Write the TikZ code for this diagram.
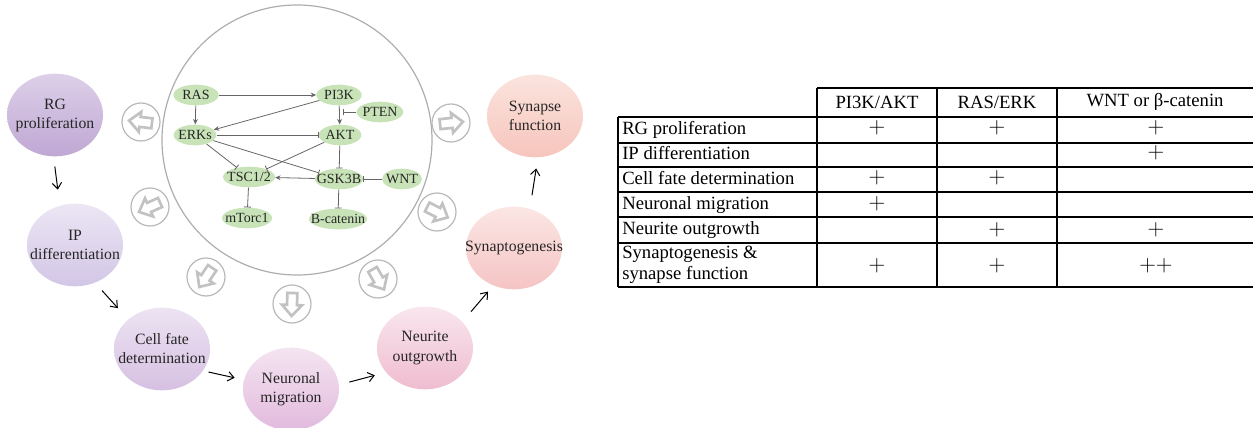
\documentclass[tikz,border=0pt]{standalone}
\usepackage{fontspec}
\setmainfont{Liberation Serif}
\usetikzlibrary{shapes.geometric,arrows.meta}
\definecolor{genegreen}{HTML}{C9E3B8}
\definecolor{rgtop}{HTML}{DDD0E9}
\definecolor{rgbot}{HTML}{BFA7D3}
\definecolor{iptop}{HTML}{ECE6F4}
\definecolor{ipbot}{HTML}{D2C6E6}
\definecolor{cftop}{HTML}{EDE3F2}
\definecolor{cfbot}{HTML}{D6C0E2}
\definecolor{nmtop}{HTML}{F4E4F1}
\definecolor{nmbot}{HTML}{E2BADD}
\definecolor{notop}{HTML}{F9E6EE}
\definecolor{nobot}{HTML}{EFBCD0}
\definecolor{sgtop}{HTML}{FBE6E4}
\definecolor{sgbot}{HTML}{F5C4C4}
\definecolor{sftop}{HTML}{FBE4DE}
\definecolor{sfbot}{HTML}{F6C5BC}
\begin{document}
\begin{tikzpicture}[x=0.75pt,y=0.75pt,yscale=-1,xscale=1,
  stage/.style={ellipse,inner xsep=-15pt,inner ysep=0pt,minimum width=72pt,minimum height=62pt,align=center,text=black!85,font=\fontsize{11.8}{14.3}\selectfont},
  gene/.style={ellipse,fill=genegreen,inner xsep=-8pt,inner ysep=0pt,minimum height=15.5pt,text=black!85,font=\fontsize{10.5}{12}\selectfont},
  flow/.style={-{Straight Barb[length=4.5pt,width=7pt]},line width=0.75pt},
  act/.style={-{Stealth[length=4pt,width=3.6pt]},draw=black!60,line width=0.6pt},
  inh/.style={-{Bar[width=5pt]},draw=black!60,line width=0.6pt},
  iconring/.style={draw=black!28,line width=0.9pt},
  iconarrow/.style={draw=black!24,fill=white,line width=2pt,line join=miter},
  tab/.style={line width=0.9pt},
  cell/.style={inner sep=0pt,font=\fontsize{14}{15.5}\selectfont},
  plus/.style={inner sep=0pt,font=\fontsize{18}{20}\selectfont}]
\useasboundingbox (0,0) rectangle (1253,428);

\draw[black!32,line width=0.9pt] (297,140) circle [radius=135];
\foreach \x/\y/\a in {141/122/187,150/207/156,206/277/124,292/304/92,378/279/60,437/212/27,451/123/-6}{
  \draw[iconring] (\x,\y) circle [radius=19];
  \draw[iconarrow,shift={(\x,\y)},rotate=\a] (-11,-5) -- (1,-5) -- (1,-10) -- (12,0) -- (1,10) -- (1,5) -- (-11,5) -- cycle;
}

\node[stage,top color=rgtop,bottom color=rgbot] (rg) at (55,115) {RG\\proliferation};
\node[stage,top color=iptop,bottom color=ipbot] (ip) at (75,245) {IP\\differentiation};
\node[stage,top color=cftop,bottom color=cfbot] (cf) at (162,349) {Cell fate\\determination};
\node[stage,top color=nmtop,bottom color=nmbot] (nm) at (291,389) {Neuronal\\migration};
\node[stage,top color=notop,bottom color=nobot] (no) at (425,348) {Neurite\\outgrowth};
\node[stage,top color=sgtop,bottom color=sgbot] (sg) at (514,248) {Synaptogenesis};
\node[stage,top color=sftop,bottom color=sfbot] (sf) at (535,116) {Synapse\\function};

\draw[flow,shorten <=7.5pt,shorten >=12pt] (rg.268) -- (ip.111);
\draw[flow,shorten <=7.8pt,shorten >=11.4pt] (ip.-62) -- (cf.139);
\draw[flow,shorten <=4.2pt,shorten >=7.1pt] (cf.-28) -- (nm.169);
\draw[flow,shorten <=8pt,shorten >=8.6pt] (nm.5) -- (no.212);
\draw[flow,shorten <=10pt,shorten >=6pt] (no.35) -- (sg.-119);
\draw[flow,shorten <=10.2pt,shorten >=8.3pt] (sg.68) -- (sf.-86);

\node[gene,minimum width=34pt] (ras) at (196,95) {RAS};
\node[gene,minimum width=34pt] (pi3k) at (339,95) {PI3K};
\node[gene,minimum width=35pt] (pten) at (380,112) {PTEN};
\node[gene,minimum width=32pt] (erks) at (195,135) {ERKs};
\node[gene,minimum width=32pt] (akt) at (340,135) {AKT};
\node[gene,minimum width=39pt] (tsc) at (249,177) {TSC1/2};
\node[gene,minimum width=36pt] (gsk) at (339,179) {GSK3B};
\node[gene,minimum width=30pt] (wnt) at (402,179) {WNT};
\node[gene,minimum width=37.5pt] (mtorc) at (247,218) {mTorc1};
\node[gene,minimum width=43.5pt] (bcat) at (338,219) {B-catenin};
\coordinate (ptenhit) at (343,112);

\draw[act] (ras) -- (pi3k);
\draw[act] (ras) -- (erks);
\draw[act] (pi3k) -- (erks);
\draw[act] (pi3k) -- (akt);
\draw[inh] (pten) -- (ptenhit);
\draw[inh] (erks) -- (akt);
\draw[inh] (erks) -- (tsc);
\draw[inh] (erks) -- (gsk);
\draw[inh] (akt) -- (tsc);
\draw[inh] (akt) -- (gsk);
\draw[act] (gsk) -- (tsc);
\draw[inh] (wnt) -- (gsk);
\draw[inh] (tsc) -- (mtorc);
\draw[inh] (gsk) -- (bcat);

\draw[tab] (817,88) -- (1253,88);
\draw[tab] (618,117) -- (1253,117);
\foreach \y in {143,167,192,217,243,287}
  \draw[tab] (618,\y) -- (1253,\y);
\draw[tab] (618,117) -- (618,287);
\foreach \x in {817,937,1057}
  \draw[tab] (\x,88) -- (\x,287);

\node[cell] (hpi) at (877,102) {PI3K/AKT};
\node[cell] (hras) at (997,102) {RAS/ERK};
\node[cell] (hwnt) at (1155,102) {WNT or β-catenin};

\node[cell,anchor=base west] (lrg) at (622,134.5) {RG proliferation};
\node[cell,anchor=base west] (lip) at (622,159.5) {IP differentiation};
\node[cell,anchor=base west] (lcf) at (622,184) {Cell fate determination};
\node[cell,anchor=base west] (lnm) at (622,209) {Neuronal migration};
\node[cell,anchor=base west] (lno) at (622,234.5) {Neurite outgrowth};
\node[cell,anchor=west,align=left] (lsg) at (622,265) {Synaptogenesis \&\\synapse function};

\node[plus] (rgpi) at (877,128) {$+$};
\node[plus] (rgras) at (997,128) {$+$};
\node[plus] (rgwnt) at (1156,128) {$+$};
\node[plus] (ipwnt) at (1156,153) {$+$};
\node[plus] (cfpi) at (877,178) {$+$};
\node[plus] (cfras) at (997,178) {$+$};
\node[plus] (nmpi) at (877,204) {$+$};
\node[plus] (noras) at (997,230) {$+$};
\node[plus] (nownt) at (1156,230) {$+$};
\node[plus] (sgpi) at (877,266) {$+$};
\node[plus] (sgras) at (997,266) {$+$};
\node[plus] (sgwnt) at (1156,266) {${+}{+}$};
\end{tikzpicture}
\end{document}
